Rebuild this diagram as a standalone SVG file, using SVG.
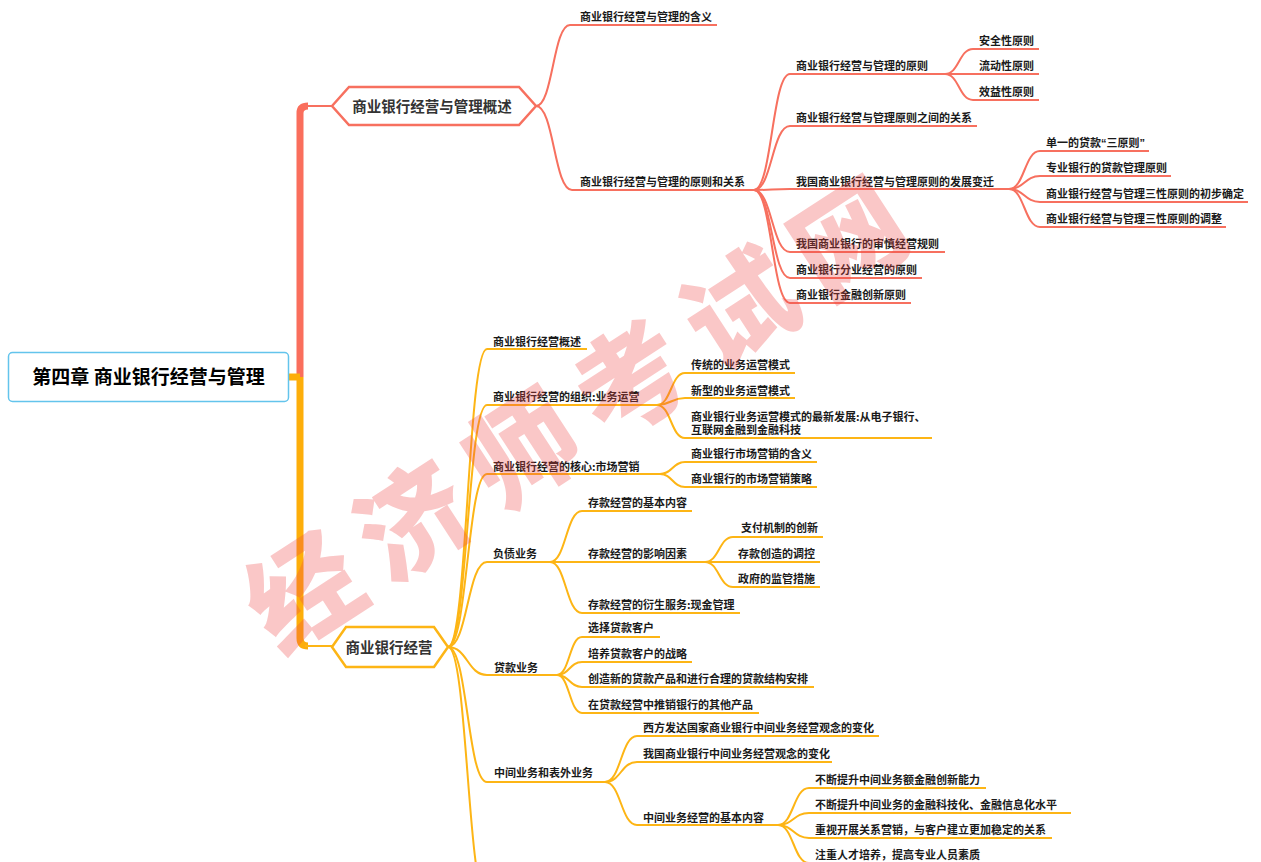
<svg xmlns="http://www.w3.org/2000/svg" width="1261" height="862" viewBox="0 0 1261 862">
<style>
.tx{font-family:"Noto Sans CJK SC","Noto Sans",sans-serif;font-weight:700;font-size:11px;fill:#1a1a1a}
.hx{font-family:"Noto Sans CJK SC","Noto Sans",sans-serif;font-weight:700;font-size:14.5px;fill:#333;text-anchor:middle}
.rt{font-family:"Noto Sans CJK SC","Noto Sans",sans-serif;font-weight:700;font-size:19px;fill:#000;text-anchor:middle}
.q{font-family:"Liberation Sans",sans-serif}
.r{fill:none;stroke:#F7705F;stroke-width:2}
.o{fill:none;stroke:#FDB515;stroke-width:2}
.wm{font-family:"Noto Sans CJK SC",sans-serif;font-weight:900;font-size:110px;fill:#F04848;opacity:0.3;text-anchor:middle;letter-spacing:20px}
</style>
<rect width="1261" height="862" fill="#fff"/>
<g id="connectors">
  <!-- spine -->
  <path d="M300 377 V113 Q300 106 308 106" fill="none" stroke="#FA6E5C" stroke-width="7"/>
  <path d="M305 106 H333" class="r" stroke-width="2.5"/>
  <path d="M300 377 V638 Q300 646 308 646" fill="none" stroke="#FDAE0A" stroke-width="7"/>
  <path d="M305 646 H333" class="o" stroke-width="2.5"/>
  <path d="M289 377 H300" fill="none" stroke="#FDAE0A" stroke-width="7"/>
  <!-- red branch -->
  <path class="r" d="M536 106 C553 106 553 25 570 25 H717"/>
  <path class="r" d="M536 106 C554 106 554 190 572 190 H754"/>
  <path class="r" d="M754 190 C772 190 772 74 790 74 H945"/>
  <path class="r" d="M754 190 C772 190 772 126 790 126 H977"/>
  <path class="r" d="M754 190 C772 190 772 189 790 189 H1009"/>
  <path class="r" d="M754 190 C772 190 772 252 790 252 H945"/>
  <path class="r" d="M754 190 C772 190 772 278 790 278 H922"/>
  <path class="r" d="M754 190 C772 190 772 303 790 303 H911"/>
  <path class="r" d="M945 74 C959 74 959 49 973 49 H1039"/>
  <path class="r" d="M945 74 C959 74 959 74 973 74 H1039"/>
  <path class="r" d="M945 74 C959 74 959 100 973 100 H1039"/>
  <path class="r" d="M1009 189 C1024.5 189 1024.5 151 1040 151 H1149"/>
  <path class="r" d="M1009 189 C1024.5 189 1024.5 176 1040 176 H1171"/>
  <path class="r" d="M1009 189 C1024.5 189 1024.5 202 1040 202 H1248"/>
  <path class="r" d="M1009 189 C1024.5 189 1024.5 227 1040 227 H1226"/>
  <!-- orange branch -->
  <path class="o" d="M448 647 C467.5 647 467.5 349 487 349 H587"/>
  <path class="o" d="M448 647 C467.5 647 467.5 405 487 405 H657"/>
  <path class="o" d="M448 647 C467.5 647 467.5 474 487 474 H660"/>
  <path class="o" d="M448 647 C467.5 647 467.5 562 487 562 H550"/>
  <path class="o" d="M448 647 C467.5 647 467.5 675 487 675 H557"/>
  <path class="o" d="M448 647 C467.5 647 467.5 782 487 782 H605"/>
  <path class="o" d="M448 647 C467.5 647 467.5 900 487 900 H600"/>
  <path class="o" d="M657 405 C671 405 671 373 685 373 H795"/>
  <path class="o" d="M657 405 C671 405 671 398 685 398 H795"/>
  <path class="o" d="M657 405 C671 405 671 438 685 438 H932"/>
  <path class="o" d="M660 474 C672.5 474 672.5 462 685 462 H817"/>
  <path class="o" d="M660 474 C672.5 474 672.5 487 685 487 H817"/>
  <path class="o" d="M550 562 C566 562 566 511 582 511 H692"/>
  <path class="o" d="M550 562 C566 562 566 562 582 562 H705"/>
  <path class="o" d="M550 562 C566 562 566 613 582 613 H740"/>
  <path class="o" d="M705 562 C719 562 719 537 733 537 H823"/>
  <path class="o" d="M705 562 C719 562 719 562 733 562 H820"/>
  <path class="o" d="M705 562 C719 562 719 587 733 587 H820"/>
  <path class="o" d="M557 675 C569.5 675 569.5 637 582 637 H660"/>
  <path class="o" d="M557 675 C569.5 675 569.5 662 582 662 H692"/>
  <path class="o" d="M557 675 C569.5 675 569.5 687 582 687 H814"/>
  <path class="o" d="M557 675 C569.5 675 569.5 713 582 713 H759"/>
  <path class="o" d="M605 782 C621 782 621 736 637 736 H879"/>
  <path class="o" d="M605 782 C621 782 621 762 637 762 H832"/>
  <path class="o" d="M605 782 C621 782 621 825 637 825 H778"/>
  <path class="o" d="M778 825 C793.5 825 793.5 788 809 788 H986"/>
  <path class="o" d="M778 825 C793.5 825 793.5 813 809 813 H1071"/>
  <path class="o" d="M778 825 C793.5 825 793.5 838 809 838 H1052"/>
  <path class="o" d="M778 825 C793.5 825 793.5 863 809 863 H990"/>
</g>
<g id="root">
  <rect x="8.5" y="352.5" width="280" height="49" rx="4" fill="#fff" stroke="#63C4EC" stroke-width="1.5"/>
  <text class="rt" x="148.5" y="384">第四章 商业银行经营与管理</text>
</g>
<g id="n-overview">
  <polygon points="332,106 349,87 519,87 536,106 519,125 349,125" fill="#fff" stroke="#F7705F" stroke-width="2.5"/>
  <text class="hx" x="432" y="111.5">商业银行经营与管理概述</text>
</g>
<g id="n-operation">
  <polygon points="332,647 346,627 434,627 448,647 434,667 346,667" fill="#fff" stroke="#FDB515" stroke-width="2.5"/>
  <text class="hx" x="389" y="652.5">商业银行经营</text>
</g>
<g id="n-a1"><text class="tx" x="580" y="21">商业银行经营与管理的含义</text></g>
<g id="n-a2"><text class="tx" x="580" y="186">商业银行经营与管理的原则和关系</text></g>
<g id="n-b1"><text class="tx" x="796" y="70">商业银行经营与管理的原则</text></g>
<g id="n-c1"><text class="tx" x="979" y="45">安全性原则</text></g>
<g id="n-c2"><text class="tx" x="979" y="70">流动性原则</text></g>
<g id="n-c3"><text class="tx" x="979" y="96">效益性原则</text></g>
<g id="n-b2"><text class="tx" x="796" y="122">商业银行经营与管理原则之间的关系</text></g>
<g id="n-b3"><text class="tx" x="796" y="186">我国商业银行经营与管理原则的发展变迁</text></g>
<g id="n-d1"><text class="tx" x="1046" y="147">单一的贷款<tspan class="q">“</tspan>三原则<tspan class="q">”</tspan></text></g>
<g id="n-d2"><text class="tx" x="1046" y="172">专业银行的贷款管理原则</text></g>
<g id="n-d3"><text class="tx" x="1046" y="198">商业银行经营与管理三性原则的初步确定</text></g>
<g id="n-d4"><text class="tx" x="1046" y="223">商业银行经营与管理三性原则的调整</text></g>
<g id="n-b4"><text class="tx" x="796" y="248">我国商业银行的审慎经营规则</text></g>
<g id="n-b5"><text class="tx" x="796" y="274">商业银行分业经营的原则</text></g>
<g id="n-b6"><text class="tx" x="796" y="299">商业银行金融创新原则</text></g>
<g id="n-o1"><text class="tx" x="493" y="346">商业银行经营概述</text></g>
<g id="n-o2"><text class="tx" x="493" y="401">商业银行经营的组织:业务运营</text></g>
<g id="n-o2a"><text class="tx" x="691" y="369">传统的业务运营模式</text></g>
<g id="n-o2b"><text class="tx" x="691" y="395">新型的业务运营模式</text></g>
<g id="n-o2c"><text class="tx" x="691" y="421">商业银行业务运营模式的最新发展:从电子银行、<tspan x="691" y="434">互联网金融到金融科技</tspan></text></g>
<g id="n-o3"><text class="tx" x="493" y="471">商业银行经营的核心:市场营销</text></g>
<g id="n-o3a"><text class="tx" x="691" y="458">商业银行市场营销的含义</text></g>
<g id="n-o3b"><text class="tx" x="691" y="483">商业银行的市场营销策略</text></g>
<g id="n-o4"><text class="tx" x="493" y="558">负债业务</text></g>
<g id="n-o4a"><text class="tx" x="588" y="507">存款经营的基本内容</text></g>
<g id="n-o4b"><text class="tx" x="588" y="558">存款经营的影响因素</text></g>
<g id="n-o4b1"><text class="tx" x="741" y="532">支付机制的创新</text></g>
<g id="n-o4b2"><text class="tx" x="738" y="558">存款创造的调控</text></g>
<g id="n-o4b3"><text class="tx" x="738" y="583">政府的监管措施</text></g>
<g id="n-o4c"><text class="tx" x="588" y="609">存款经营的衍生服务:现金管理</text></g>
<g id="n-o5"><text class="tx" x="494" y="672">贷款业务</text></g>
<g id="n-o5a"><text class="tx" x="588" y="632">选择贷款客户</text></g>
<g id="n-o5b"><text class="tx" x="588" y="658">培养贷款客户的战略</text></g>
<g id="n-o5c"><text class="tx" x="588" y="683">创造新的贷款产品和进行合理的贷款结构安排</text></g>
<g id="n-o5d"><text class="tx" x="588" y="709">在贷款经营中推销银行的其他产品</text></g>
<g id="n-o6"><text class="tx" x="494" y="777">中间业务和表外业务</text></g>
<g id="n-o6a"><text class="tx" x="643" y="732">西方发达国家商业银行中间业务经营观念的变化</text></g>
<g id="n-o6b"><text class="tx" x="643" y="758">我国商业银行中间业务经营观念的变化</text></g>
<g id="n-o6c"><text class="tx" x="643" y="822">中间业务经营的基本内容</text></g>
<g id="n-o6c1"><text class="tx" x="815" y="784">不断提升中间业务额金融创新能力</text></g>
<g id="n-o6c2"><text class="tx" x="815" y="809">不断提升中间业务的金融科技化、金融信息化水平</text></g>
<g id="n-o6c3"><text class="tx" x="815" y="834">重视开展关系营销，与客户建立更加稳定的关系</text></g>
<g id="n-o6c4"><text class="tx" x="815" y="859">注重人才培养，提高专业人员素质</text></g>
<g id="watermark">
  <text class="wm" x="585" y="450" transform="rotate(-33 585 410)">经济师考试网</text>
</g>
</svg>
